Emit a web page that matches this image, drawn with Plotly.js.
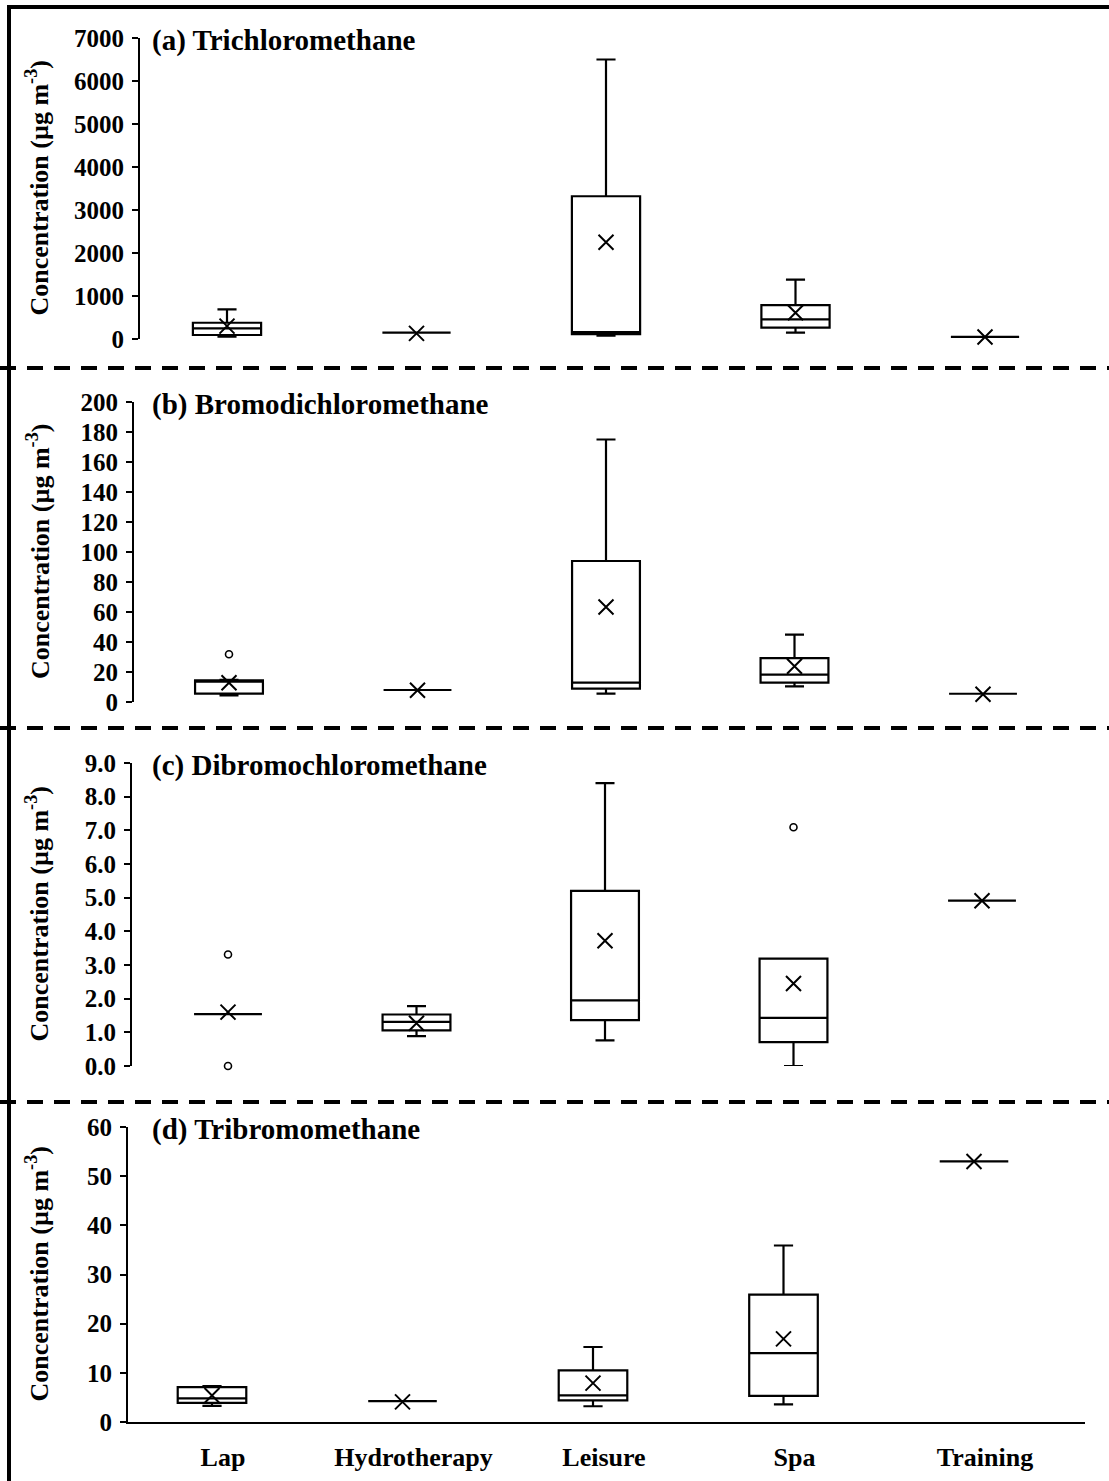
<!DOCTYPE html>
<html>
<head>
<meta charset="utf-8">
<script src="https://cdn.plot.ly/plotly-3.0.1.min.js"></script>
<style>html,body{margin:0;padding:0;background:#fff;}#chart{width:1109px;height:1481px;}</style>
</head>
<body>
<div id="chart"></div>
<script>
// ---------------- DATA ----------------
const categories = ['Lap', 'Hydrotherapy', 'Leisure', 'Spa', 'Training'];

const panelTitles = ['(a) Trichloromethane', '(b) Bromodichloromethane', '(c) Dibromochloromethane', '(d) Tribromomethane'];
const yAxisTitle = 'Concentration (µg m<sup>-3</sup>)';

// (a) Trichloromethane
const triMin    = [54, 150, 80, 147, 50];
const triQ1     = [93, 150, 110, 263, 50];
const triMedian = [247, 150, 160, 456, 50];
const triQ3     = [378, 150, 3320, 788, 50];
const triMax    = [687, 150, 6500, 1382, 50];
const triMean   = [300, 130, 2250, 610, 45];
const triOutX   = [];
const triOutY   = [];

// (b) Bromodichloromethane
const bdcmMin    = [4.4, 8.0, 5.6, 10.4, 5.5];
const bdcmQ1     = [5.6, 8.0, 8.9, 12.9, 5.5];
const bdcmMedian = [13.5, 8.0, 12.9, 18.2, 5.5];
const bdcmQ3     = [14.4, 8.0, 94, 29.3, 5.5];
const bdcmMax    = [14.8, 8.0, 175, 44.9, 5.5];
const bdcmMean   = [12.8, 7.8, 63.3, 23.8, 5.2];
const bdcmOutX   = ['Lap'];
const bdcmOutY   = [31.8];

// (c) Dibromochloromethane
const dbcmMin    = [1.54, 0.89, 0.76, 0.0, 4.91];
const dbcmQ1     = [1.54, 1.06, 1.36, 0.71, 4.91];
const dbcmMedian = [1.54, 1.31, 1.95, 1.43, 4.91];
const dbcmQ3     = [1.54, 1.53, 5.2, 3.19, 4.91];
const dbcmMax    = [1.54, 1.78, 8.4, 3.19, 4.91];
const dbcmMean   = [1.6, 1.27, 3.72, 2.45, 4.91];
const dbcmOutX   = ['Lap', 'Lap', 'Spa'];
const dbcmOutY   = [3.31, 0.0, 7.09];

// (d) Tribromomethane
const tbmMin    = [3.3, 4.25, 3.2, 3.6, 53.0];
const tbmQ1     = [3.9, 4.25, 4.4, 5.3, 53.0];
const tbmMedian = [4.8, 4.25, 5.4, 14.0, 53.0];
const tbmQ3     = [7.1, 4.25, 10.5, 25.9, 53.0];
const tbmMax    = [7.3, 4.25, 15.25, 35.9, 53.0];
const tbmMean   = [5.4, 4.1, 7.9, 16.9, 53.0];
const tbmOutX   = [];
const tbmOutY   = [];

const yMax   = [7000, 200, 9, 60];
const yDtick = [1000, 20, 1, 10];
const yFormat = ['d', 'd', '.1f', 'd'];

// ---------------- LAYOUT HELPERS ----------------
const W = 1109, H = 1481;
const px = x => x / W;
const py = y => 1 - y / H;
const FONT = 'Liberation Serif, Times New Roman, serif';

// pixel geometry of each panel (axis x, first/last box centre, top/bottom of y axis)
const geom = [
  {axisX: 140, c0: 227, c4: 985, top: 38,   bot: 339},
  {axisX: 134, c0: 229, c4: 983, top: 402,  bot: 702},
  {axisX: 132, c0: 228, c4: 982, top: 763,  bot: 1066},
  {axisX: 128, c0: 212, c4: 974, top: 1127, bot: 1422}
];
const xEnd = 1085;

const stats = [
  [triMin, triQ1, triMedian, triQ3, triMax, triMean, triOutX, triOutY],
  [bdcmMin, bdcmQ1, bdcmMedian, bdcmQ3, bdcmMax, bdcmMean, bdcmOutX, bdcmOutY],
  [dbcmMin, dbcmQ1, dbcmMedian, dbcmQ3, dbcmMax, dbcmMean, dbcmOutX, dbcmOutY],
  [tbmMin, tbmQ1, tbmMedian, tbmQ3, tbmMax, tbmMean, tbmOutX, tbmOutY]
];

const data = [];
const layout = {
  width: W, height: H,
  margin: {l: 0, r: 0, t: 0, b: 0},
  paper_bgcolor: '#fff', plot_bgcolor: '#fff',
  showlegend: false,
  boxgap: 0.64,
  boxgroupgap: 0,
  annotations: [],
  shapes: []
};

stats.forEach((s, i) => {
  const n = i + 1;
  const xa = n === 1 ? 'x' : 'x' + n;
  const ya = n === 1 ? 'y' : 'y' + n;
  const g = geom[i];
  const sp = (g.c4 - g.c0) / 4;
  const r0 = -(g.c0 - g.axisX) / sp;
  const r1 = r0 + (xEnd - g.axisX) / sp;

  data.push({
    type: 'box', xaxis: xa, yaxis: ya,
    x: categories,
    lowerfence: s[0], q1: s[1], median: s[2], q3: s[3], upperfence: s[4],
    boxpoints: false,
    whiskerwidth: 0.28,
    fillcolor: 'rgba(255,255,255,0)',
    line: {color: '#000', width: 2.2},
    hoverinfo: 'skip'
  });
  data.push({
    type: 'scatter', mode: 'markers', xaxis: xa, yaxis: ya,
    x: categories, y: s[5], cliponaxis: false,
    marker: {symbol: 'x-thin', size: 15, color: '#000', line: {color: '#000', width: 2}},
    hoverinfo: 'skip'
  });
  if (s[6].length) {
    data.push({
      type: 'scatter', mode: 'markers', xaxis: xa, yaxis: ya,
      x: s[6], y: s[7], cliponaxis: false,
      marker: {symbol: 'circle-open', size: 7, color: '#000', line: {color: '#000', width: 1.6}},
      hoverinfo: 'skip'
    });
  }

  const last = i === 3;
  layout['xaxis' + (n === 1 ? '' : n)] = {
    type: 'category', categoryarray: categories, categoryorder: 'array',
    domain: [px(g.axisX), px(xEnd)],
    range: [r0, r1],
    anchor: ya,
    showline: last, linecolor: '#000', linewidth: 2,
    ticks: '', showgrid: false, zeroline: false,
    showticklabels: last,
    ticklabelshift: 11,
    ticklabelstandoff: 11,
    tickfont: {family: FONT, size: 26, color: '#000', weight: 'bold'},
    fixedrange: true
  };
  layout['yaxis' + (n === 1 ? '' : n)] = {
    domain: [py(g.bot), py(g.top)],
    range: [0, yMax[i]],
    anchor: xa,
    dtick: yDtick[i], tick0: 0,
    tickformat: yFormat[i],
    showline: true, linecolor: '#000', linewidth: 2,
    ticks: 'outside', ticklen: 6, tickwidth: 2, tickcolor: '#000',
    showgrid: false, zeroline: false,
    ticklabelstandoff: 3,
    tickfont: {family: FONT, size: 25, color: '#000', weight: 'bold'},
    fixedrange: true
  };

  // panel title
  layout.annotations.push({
    xref: 'paper', yref: 'paper',
    x: px(150), y: py(g.top + 2),
    xanchor: 'left', yanchor: 'middle',
    text: panelTitles[i], showarrow: false,
    font: {family: FONT, size: 29, color: '#000', weight: 'bold'}
  });
  // y axis title
  layout.annotations.push({
    xref: 'paper', yref: 'paper',
    x: px(38), y: py((g.top + g.bot) / 2),
    xanchor: 'center', yanchor: 'middle', textangle: -90,
    text: yAxisTitle, showarrow: false,
    font: {family: FONT, size: 26, color: '#000', weight: 'bold'}
  });
});

// dashed separators and frame
[368, 728, 1102].forEach(y => {
  layout.shapes.push({
    type: 'line', xref: 'paper', yref: 'paper',
    x0: 0, x1: 1, y0: py(y), y1: py(y),
    line: {color: '#000', width: 4, dash: '16px,11px'}
  });
});
layout.shapes.push({type: 'line', xref: 'paper', yref: 'paper', x0: px(9), x1: px(9), y0: 0, y1: py(5), line: {color: '#000', width: 4}});
layout.shapes.push({type: 'line', xref: 'paper', yref: 'paper', x0: px(7), x1: 1, y0: py(7), y1: py(7), line: {color: '#000', width: 4}});

Plotly.newPlot('chart', data, layout, {staticPlot: true, displayModeBar: false});
</script>
</body>
</html>
